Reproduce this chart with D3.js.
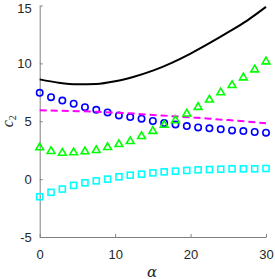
<!DOCTYPE html>
<html>
<head>
<meta charset="utf-8">
<script src="https://cdn.jsdelivr.net/npm/d3@7"></script>
<style>
  body { margin: 0; background: #fff; }
  svg { display: block; }
</style>
</head>
<body>
<div id="chart"></div>
<script>
// sample points (alpha)
const alphaPts = [0, 1.5, 3, 4.5, 6, 7.5, 9, 10.5, 12, 13.5, 15, 16.5, 18, 19.5, 21, 22.5, 24, 25.5, 27, 28.5, 30];
const circleVals = [7.46, 7.08, 6.79, 6.51, 6.22, 5.99, 5.76, 5.50, 5.36, 5.22, 5.02, 4.84, 4.73, 4.58, 4.47, 4.39, 4.30, 4.21, 4.15, 4.07, 4.01];
const triangleVals = [2.73, 2.41, 2.26, 2.30, 2.38, 2.49, 2.75, 3.01, 3.27, 3.70, 4.15, 4.67, 5.07, 5.65, 6.22, 6.85, 7.48, 8.11, 8.77, 9.46, 10.15];
const squareVals = [-1.52, -1.14, -0.86, -0.54, -0.32, -0.15, 0.0, 0.20, 0.34, 0.43, 0.54, 0.63, 0.69, 0.75, 0.80, 0.83, 0.86, 0.89, 0.89, 0.89, 0.92];

// continuous curves
const curveAlpha = [0, 2.5, 5, 7.5, 10, 12.5, 15, 17.5, 20, 22.5, 25, 27.5, 30];
const blackVals = [8.62, 8.33, 8.19, 8.22, 8.45, 8.85, 9.37, 10.05, 10.85, 11.75, 12.7, 13.7, 14.88];
const dashVals = [5.95, 5.91, 5.87, 5.82, 5.75, 5.66, 5.55, 5.44, 5.33, 5.22, 5.1, 4.97, 4.83];

const xTicks = [0, 10, 20, 30];
const yTicks = [-5, 0, 5, 10, 15];

const W = 275, H = 279;
const margin = {left: 39.7, right: 9, top: 5.5, bottom: 42};

const svg = d3.select("#chart").append("svg")
    .attr("width", W)
    .attr("height", H);

const x = d3.scaleLinear().domain([0, 30]).range([margin.left, W - margin.right]);
const y = d3.scaleLinear().domain([-5, 15]).range([H - margin.bottom, margin.top]);

const axisColor = "#808080";
const textColor = "#262626";
const fmt = d => String(d); // plain hyphen for negatives

// axes
const xAxis = svg.append("g")
    .attr("transform", `translate(0,${y(-5)})`)
    .call(d3.axisBottom(x).tickValues(xTicks).tickFormat(fmt).tickSizeInner(-3).tickSizeOuter(0).tickPadding(13));
const yAxis = svg.append("g")
    .attr("transform", `translate(${x(0)},0)`)
    .call(d3.axisLeft(y).tickValues(yTicks).tickFormat(fmt).tickSizeInner(-3).tickSizeOuter(0).tickPadding(8));

[xAxis, yAxis].forEach(g => {
    g.select(".domain").attr("stroke", axisColor);
    g.selectAll(".tick line").attr("stroke", axisColor);
    g.selectAll(".tick text")
        .attr("fill", textColor)
        .style("font-family", "'Liberation Sans', Arial, sans-serif")
        .style("font-size", "13px");
});
// top label sits a little lower so it stays inside the window
yAxis.selectAll(".tick text").filter(d => d === 15).attr("dy", "0.5em");

// axis labels
svg.append("text")
    .attr("x", 152)
    .attr("y", 276.5)
    .attr("text-anchor", "middle")
    .style("font-family", "'DejaVu Serif', 'Liberation Serif', serif")
    .style("font-style", "italic")
    .style("font-size", "15px")
    .attr("fill", textColor)
    .text("α");

svg.append("text")
    .attr("transform", `translate(13,${y(5)}) rotate(-90)`)
    .attr("text-anchor", "middle")
    .style("font-family", "'Liberation Serif', serif")
    .style("font-style", "italic")
    .style("font-size", "16px")
    .attr("fill", textColor)
    .text("c")
    .append("tspan")
    .attr("dy", 3)
    .style("font-size", "10px")
    .style("font-style", "normal")
    .text("2");

const line = d3.line()
    .x(d => x(d[0]))
    .y(d => y(d[1]))
    .curve(d3.curveMonotoneX);

// black solid curve
svg.append("path")
    .datum(curveAlpha.map((a, i) => [a, blackVals[i]]))
    .attr("d", line)
    .attr("fill", "none")
    .attr("stroke", "#000")
    .attr("stroke-width", 2);

// blue circles
svg.append("g").selectAll("circle")
    .data(alphaPts.map((a, i) => [a, circleVals[i]]))
    .join("circle")
    .attr("cx", d => x(d[0]))
    .attr("cy", d => y(d[1]))
    .attr("r", 3.2)
    .attr("fill", "none")
    .attr("stroke", "#0000ff")
    .attr("stroke-width", 1.6);

// magenta dashed curve
svg.append("path")
    .datum(curveAlpha.map((a, i) => [a, dashVals[i]]))
    .attr("d", line)
    .attr("fill", "none")
    .attr("stroke", "#ff00ff")
    .attr("stroke-width", 2)
    .attr("stroke-dasharray", "7,4");

// green triangles
const tri = d3.symbol().type(d3.symbolTriangle).size(26);
svg.append("g").selectAll("path")
    .data(alphaPts.map((a, i) => [a, triangleVals[i]]))
    .join("path")
    .attr("transform", d => `translate(${x(d[0])},${y(d[1])})`)
    .attr("d", tri)
    .attr("fill", "none")
    .attr("stroke", "#00ff00")
    .attr("stroke-width", 1.6);

// cyan squares
svg.append("g").selectAll("rect")
    .data(alphaPts.map((a, i) => [a, squareVals[i]]))
    .join("rect")
    .attr("x", d => x(d[0]) - 3)
    .attr("y", d => y(d[1]) - 3)
    .attr("width", 6)
    .attr("height", 6)
    .attr("fill", "none")
    .attr("stroke", "#00ffff")
    .attr("stroke-width", 1.6);
</script>
</body>
</html>
